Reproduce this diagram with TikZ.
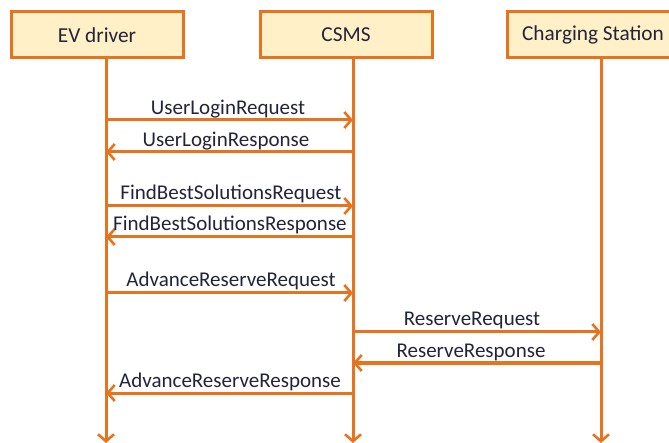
\documentclass[tikz,border=0pt]{standalone}
\usepackage{fontspec}
\setmainfont{Carlito}
\usetikzlibrary{arrows.meta}
\definecolor{orng}{HTML}{E8731E}
\definecolor{boxfill}{HTML}{FFF0C8}
\definecolor{txt}{HTML}{22243A}
\begin{document}
\begin{tikzpicture}[x=1pt,y=-1pt,
  actor/.style={draw=orng,line width=3pt,fill=boxfill,minimum width=172pt,minimum height=46pt,inner sep=0pt,text=txt,font=\fontsize{21.3}{24}\selectfont},
  life/.style={draw=orng,line width=3pt,-{Straight Barb[length=7pt,width=16pt,line width=2.6pt]}},
  msg/.style={draw=orng,line width=3pt,-{Straight Barb[length=7pt,width=16pt,line width=2.6pt]}},
  lbl/.style={text=txt,font=\fontsize{21}{24}\selectfont,inner sep=0pt,anchor=base}]
\useasboundingbox (0,0) rectangle (669,443);
\node[actor] (ev) at (97,35) {EV driver};
\node[actor] (cs) at (346,35) {CSMS};
\node[actor] (st) at (593,35) {Charging Station};
% lifeline anchors
\coordinate (evt) at (106,58); \coordinate (evb) at (106,443);
\coordinate (cst) at (353,58); \coordinate (csb) at (353,443);
\coordinate (stt) at (601,58); \coordinate (stb) at (601,443);
\draw[life] (evt) -- (evb);
\draw[life] (cst) -- (csb);
\draw[life] (stt) -- (stb);
% message coordinates
\foreach \n/\y in {1/120,2/152,3/206,4/237,5/293,6/332,7/363,8/393}{
  \coordinate (e\n) at (106,\y);
  \coordinate (c\n) at (353,\y);
  \coordinate (s\n) at (601,\y);
}
\draw[msg] (e1) -- (c1);
\draw[msg] (c2) -- (e2);
\draw[msg] (e3) -- (c3);
\draw[msg] (c4) -- (e4);
\draw[msg] (e5) -- (c5);
\draw[msg] (c6) -- (s6);
\draw[msg] (s7) -- (c7);
\draw[msg] (c8) -- (e8);
\node[lbl] (l1) at (228,115) {UserLoginRequest};
\node[lbl] (l2) at (226,147) {UserLoginResponse};
\node[lbl] (l3) at (231,200) {FindBestSolutionsRequest};
\node[lbl] (l4) at (230,231) {FindBestSolutionsResponse};
\node[lbl] (l5) at (231,287) {AdvanceReserveRequest};
\node[lbl] (l6) at (472,326) {ReserveRequest};
\node[lbl] (l7) at (471,357) {ReserveResponse};
\node[lbl] (l8) at (230,388) {AdvanceReserveResponse};
\end{tikzpicture}
\end{document}
